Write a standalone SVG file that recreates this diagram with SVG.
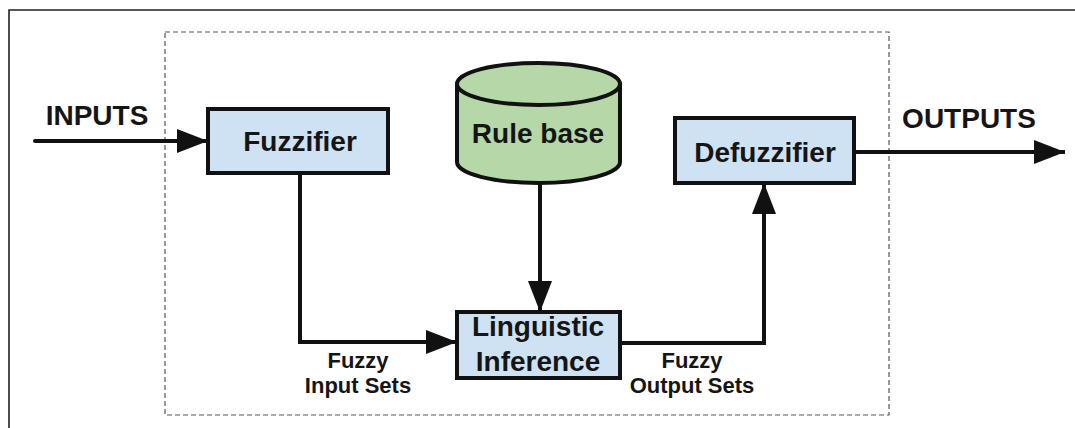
<svg xmlns="http://www.w3.org/2000/svg" width="1075" height="428" viewBox="0 0 1075 428">
<style>
.bg{fill:#ffffff}
.frame{fill:none;stroke:#222;stroke-width:1.6}
.dash{fill:none;stroke:#555;stroke-width:1.2;stroke-dasharray:5 3}
.box{fill:#cfe2f3;stroke:#111;stroke-width:4}
.cyl{fill:#b6d7a8;stroke:#111;stroke-width:4}
.t{font-family:"Liberation Sans",Arial,sans-serif;font-weight:bold;fill:#151515;text-anchor:middle}
.big{font-size:28px}
.lbl{font-size:22px}
.conn{fill:none;stroke:#111;stroke-width:4;stroke-linejoin:miter}
</style>
<defs>
<marker id="ah" markerUnits="userSpaceOnUse" markerWidth="31" markerHeight="24" refX="31" refY="12" orient="auto">
<path d="M0,0 L31,12 L0,24 z" fill="#111"/>
</marker>
</defs>
<rect class="bg" x="0" y="0" width="1075" height="428"/>
<path class="frame" d="M9,428 L9,10 L1075,10"/>
<rect class="dash" x="165" y="32" width="724" height="383"/>

<g id="connectors">
<path class="conn" d="M35,141 L208,141" stroke-linecap="round" marker-end="url(#ah)"/>
<path class="conn" d="M300,173 L300,342 L457,342" marker-end="url(#ah)"/>
<path class="conn" d="M540,183 L540,312" marker-end="url(#ah)"/>
<path class="conn" d="M620,343 L764,343 L764,183" marker-end="url(#ah)"/>
<path class="conn" d="M854,152 L1065,152" marker-end="url(#ah)"/>
</g>

<g id="inputs-label"><text class="t big" x="97" y="125">INPUTS</text></g>
<g id="outputs-label"><text class="t big" x="969" y="128">OUTPUTS</text></g>

<g id="fuzzifier">
<rect class="box" x="208" y="109" width="180" height="64"/>
<text class="t big" x="300" y="151">Fuzzifier</text>
</g>

<g id="rulebase">
<path class="cyl" d="M457,84 A81.5,21 0 0 1 620,84 L620,162 A81.5,21 0 0 1 457,162 Z"/>
<path class="cyl" d="M457,84 A81.5,21 0 0 0 620,84" fill="none"/>
<text class="t big" x="538" y="143">Rule base</text>
</g>

<g id="defuzzifier">
<rect class="box" x="675" y="118" width="179" height="65"/>
<text class="t big" x="765" y="162">Defuzzifier</text>
</g>

<g id="inference">
<rect class="box" x="457" y="312" width="163" height="66"/>
<text class="t big" x="538" y="336">Linguistic</text>
<text class="t big" x="538" y="371">Inference</text>
</g>

<g id="fuzzy-input-label">
<text class="t lbl" x="358" y="368">Fuzzy</text>
<text class="t lbl" x="358" y="393">Input Sets</text>
</g>
<g id="fuzzy-output-label">
<text class="t lbl" x="692" y="368">Fuzzy</text>
<text class="t lbl" x="692" y="393">Output Sets</text>
</g>
</svg>
